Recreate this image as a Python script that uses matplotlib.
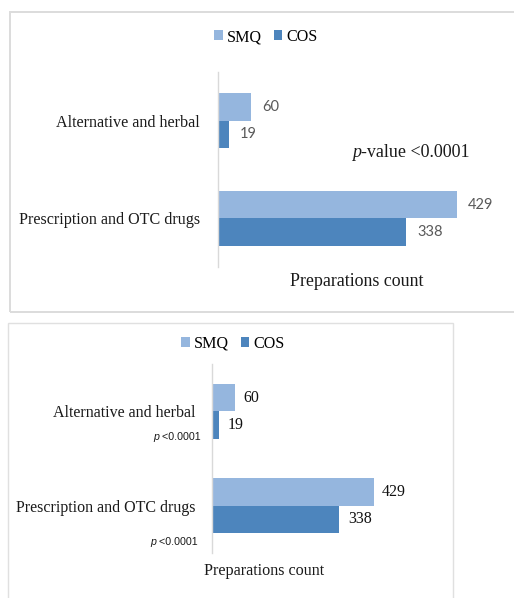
import matplotlib
matplotlib.use("Agg")
import matplotlib.pyplot as plt
from matplotlib.patches import Rectangle, Patch

categories = ["Alternative and herbal", "Prescription and OTC drugs"]
series_names = ["SMQ", "COS"]
smq_values = [60, 429]
cos_values = [19, 338]
pvalue_top = "<0.0001"
pvalue_bottom = ["<0.0001", "<0.0001"]

C_SMQ = "#95b6de"
C_COS = "#4d85bd"
AXC = "#d9d9d9"
SERIF = "Liberation Serif"

W, H = 514, 598
fig = plt.figure(figsize=(W / 100, H / 100), dpi=100)
fig.patch.set_facecolor("white")


def fx(x):
    return x / W


def fy(y):
    return 1 - y / H


def add_axes_px(x0, y0, x1, y1):
    return fig.add_axes([fx(x0), fy(y1), fx(x1) - fx(x0), fy(y0) - fy(y1)])


# panel borders
fig.add_artist(Rectangle((fx(10), fy(312)), fx(530) - fx(10), fy(12) - fy(312),
                         transform=fig.transFigure, fill=False, edgecolor="#dcdcdc",
                         linewidth=1.4, clip_on=False))
fig.add_artist(Rectangle((fx(8), fy(610)), fx(453) - fx(8), fy(323) - fy(610),
                         transform=fig.transFigure, fill=False, edgecolor="#e0e0e0",
                         linewidth=1.0, clip_on=False))


def draw_panel(ax, xmax, bh, lab_font, lab_color, lab_size, lab_pad, cat_size, cat_pad):
    pos = list(range(len(categories)))
    ax.barh([p - bh / 2 for p in pos], smq_values, height=bh, color=C_SMQ, label=series_names[0])
    ax.barh([p + bh / 2 for p in pos], cos_values, height=bh, color=C_COS, label=series_names[1])
    ax.set_ylim(len(categories) - 0.5, -0.5)
    ax.set_xlim(0, xmax)
    ax.set_yticks(pos)
    ax.set_yticklabels(categories, fontfamily=SERIF, fontsize=cat_size, color="#1a1a1a")
    ax.tick_params(axis="y", length=0, pad=cat_pad)
    ax.set_xticks([])
    for s in ["top", "right", "bottom"]:
        ax.spines[s].set_visible(False)
    ax.spines["left"].set_color(AXC)
    ax.spines["left"].set_linewidth(1.0)
    ax.set_facecolor("none")
    for p, v in zip(pos, smq_values):
        ax.annotate(str(v), (v, p - bh / 2), xytext=(lab_pad, 0), textcoords="offset points",
                    va="center", ha="left", fontfamily=lab_font, fontsize=lab_size, color=lab_color)
    for p, v in zip(pos, cos_values):
        ax.annotate(str(v), (v, p + bh / 2), xytext=(lab_pad, 0), textcoords="offset points",
                    va="center", ha="left", fontfamily=lab_font, fontsize=lab_size, color=lab_color)


# ---------- top panel ----------
ax1 = add_axes_px(218, 72, 218 + 0.557 * 500, 267)
draw_panel(ax1, 500, 0.28, "Lato", "#595959", 10.5, 8, 11.6, 13)
handles = [Patch(facecolor=C_SMQ), Patch(facecolor=C_COS)]
fig.legend(handles, series_names, loc="center", bbox_to_anchor=(fx(266), fy(37)),
           ncol=2, frameon=False, prop={"family": SERIF, "size": 11.6},
           handlelength=0.55, handleheight=0.55, handletextpad=0.25, columnspacing=0.7)
fig.text(fx(357), fy(282), "Preparations count", ha="center", va="center",
         fontfamily=SERIF, fontsize=12.9, color="#1a1a1a")
t1 = fig.text(fx(352), fy(152), "p", ha="left", va="center", fontfamily=SERIF,
              fontsize=13, style="italic", color="#1a1a1a")
fig.texts.append(None) if False else None
ax1.annotate("-value " + pvalue_top, xy=(1, 0), xycoords=t1, ha="left", va="bottom",
             fontfamily=SERIF, fontsize=13, color="#1a1a1a", annotation_clip=False)

# ---------- bottom panel ----------
ax2 = add_axes_px(212, 364, 212 + 0.377 * 600, 553)
draw_panel(ax2, 600, 0.29, SERIF, "#111111", 11.5, 6, 11.5, 12)
fig.legend(handles, series_names, loc="center", bbox_to_anchor=(fx(233), fy(344)),
           ncol=2, frameon=False, prop={"family": SERIF, "size": 11.6},
           handlelength=0.55, handleheight=0.55, handletextpad=0.25, columnspacing=0.7)
fig.text(fx(264), fy(571), "Preparations count", ha="center", va="center",
         fontfamily=SERIF, fontsize=11.6, color="#1a1a1a")
for (xr, yc), pv in zip([(201, 437), (198, 542)], pvalue_bottom):
    tp = fig.text(fx(xr), fy(yc), " " + pv, ha="right", va="center",
                  fontfamily="Liberation Sans", fontsize=7.7, color="#1a1a1a")
    ax2.annotate("p", xy=(0, 0), xycoords=tp, ha="right", va="bottom",
                 fontfamily="Liberation Sans", fontsize=7.7, style="italic",
                 color="#1a1a1a", annotation_clip=False)

fig.savefig("out.png", dpi=100, facecolor="white")
